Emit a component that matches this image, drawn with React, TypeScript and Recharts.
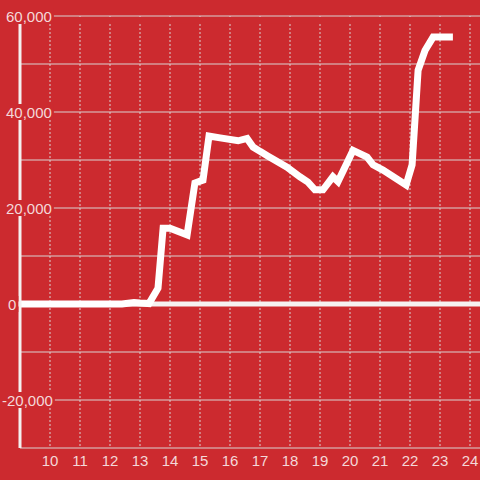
import React from "react";
import {
  LineChart,
  Line,
  XAxis,
  YAxis,
  CartesianGrid,
  ReferenceLine,
  ReferenceArea,
} from "recharts";

const BG = "#cc2a2f";
const GRID = "#d9d2d2";
const TEXT = "#f4d8d9";

// hour of day
const hours = [
  9, 12.4, 12.8, 13.0, 13.3, 13.6, 13.77, 14.0, 14.57, 14.83, 15.1, 15.3, 15.67,
  16.27, 16.57, 16.77, 17.0, 17.27, 17.43, 17.9, 18.33, 18.6, 18.83, 19.1,
  19.43, 19.6, 20.1, 20.57, 20.77, 21.1, 21.87, 22.07, 22.27, 22.5, 22.77, 23.43,
];
// series values
const values = [
  0, 0, 300, 200, 100, 3300, 15800, 15800, 14400, 25200, 25800, 35000, 34600,
  34000, 34500, 32700, 31800, 30800, 30200, 28500, 26500, 25400, 23800, 23800,
  26500, 25500, 32000, 30600, 29000, 27900, 24800, 29000, 48700, 52800, 55600,
  55600,
];

const xTicks = [10, 11, 12, 13, 14, 15, 16, 17, 18, 19, 20, 21, 22, 23, 24];
const yTicks = [-20000, 0, 20000, 40000, 60000];
const yGrid = [-20000, -10000, 10000, 20000, 30000, 40000, 50000, 60000];
const xDomain: [number, number] = [9, 24.3333];
const yDomain: [number, number] = [-30000, 60000];

const data = hours.map((h, i) => ({ h, v: values[i] }));

const fmt = (v: number) => v.toLocaleString("en-US");

const textWidth = (s: string) => {
  let w = 0;
  for (const c of s) {
    if (c === ",") w += 4.17;
    else if (c === "-") w += 5;
    else w += 8.34;
  }
  return w;
};

const YTick = (props: any) => {
  const { y, payload } = props;
  const v = payload.value as number;
  const label = fmt(v);
  const tx = v < 0 ? 2 : v === 0 ? 8 : 6;
  const w = textWidth(label);
  return (
    <g>
      <rect x={tx - 2} y={y - 8} width={w + 4} height={16} fill={BG} />
      <text
        x={tx}
        y={y}
        dy={5.5}
        textAnchor="start"
        fill={TEXT}
        fontSize={15}
        fontFamily="'Liberation Sans', Arial, sans-serif"
      >
        {label}
      </text>
    </g>
  );
};

export default function App() {
  return (
    <div
      style={{
        position: "fixed",
        left: 0,
        top: 0,
        width: 480,
        height: 480,
        background: BG,
        overflow: "hidden",
      }}
    >
      <LineChart
        width={480}
        height={480}
        data={data}
        margin={{ top: 16, right: 0, left: 0, bottom: 0 }}
      >
        <CartesianGrid
          horizontal={true}
          vertical={false}
          horizontalValues={yGrid}
          stroke={GRID}
          strokeWidth={1}
        />
        <CartesianGrid
          horizontal={false}
          vertical={true}
          verticalValues={xTicks}
          stroke={GRID}
          strokeDasharray="2 2"
          strokeWidth={1}
        />
        <ReferenceArea
          x1={xDomain[0]}
          x2={xDomain[1]}
          y1={58420}
          y2={59800}
          fill={BG}
          fillOpacity={1}
          stroke="none"
          ifOverflow="visible"
        />
        <XAxis
          dataKey="h"
          type="number"
          domain={xDomain}
          ticks={xTicks}
          allowDataOverflow
          height={32}
          axisLine={{ stroke: GRID, strokeWidth: 1 }}
          tickLine={false}
          tickSize={0}
          tickMargin={7}
          tick={{
            fill: TEXT,
            fontSize: 15,
            fontFamily: "'Liberation Sans', Arial, sans-serif",
          }}
          interval={0}
        />
        <ReferenceLine
          segment={[
            { x: 8.9, y: 0 },
            { x: xDomain[1], y: 0 },
          ]}
          stroke="#f6f1f1"
          strokeWidth={5}
          ifOverflow="visible"
        />
        <Line
          dataKey="v"
          type="linear"
          stroke="#ffffff"
          strokeWidth={7}
          dot={false}
          activeDot={false}
          isAnimationActive={false}
        />
        <YAxis
          type="number"
          domain={yDomain}
          ticks={yTicks}
          width={20}
          allowDataOverflow
          axisLine={{ stroke: "#f4f0f0", strokeWidth: 3 }}
          tickLine={false}
          tick={<YTick />}
          interval={0}
        />
      </LineChart>
    </div>
  );
}
